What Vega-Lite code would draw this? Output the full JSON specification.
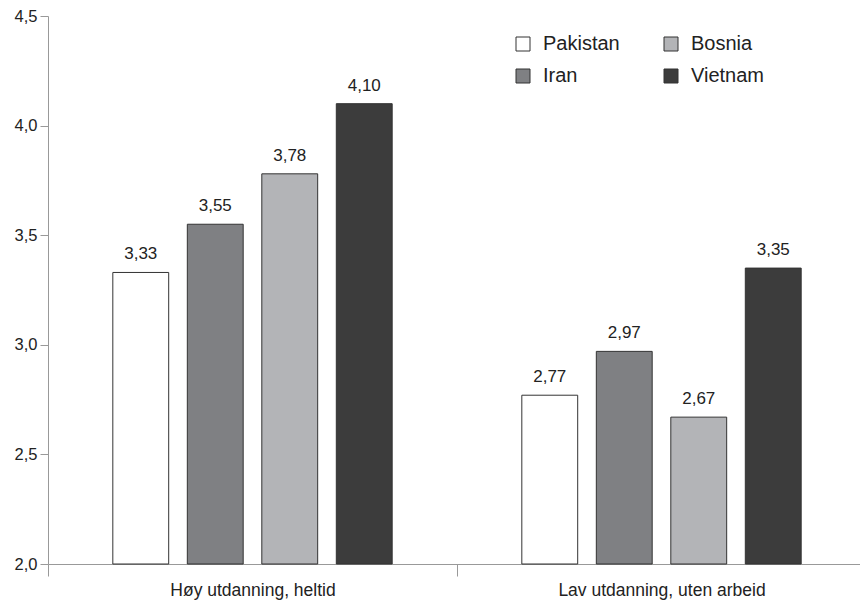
{
  "$schema": "https://vega.github.io/schema/vega-lite/v6.json",
  "width": 812,
  "height": 548,
  "padding": {"left": 48, "top": 16, "right": 0, "bottom": 40},
  "autosize": {"type": "none"},
  "background": "white",
  "config": {
    "locale": {"number": {"decimal": ",", "thousands": " ", "grouping": [3], "currency": ["", " kr"]}},
    "font": "Liberation Sans",
    "view": {"stroke": null}
  },
  "data": {
    "values": [
      {"group": "Høy utdanning, heltid", "country": "Pakistan", "value": 3.33},
      {"group": "Høy utdanning, heltid", "country": "Iran", "value": 3.55},
      {"group": "Høy utdanning, heltid", "country": "Bosnia", "value": 3.78},
      {"group": "Høy utdanning, heltid", "country": "Vietnam", "value": 4.10},
      {"group": "Lav utdanning, uten arbeid", "country": "Pakistan", "value": 2.77},
      {"group": "Lav utdanning, uten arbeid", "country": "Iran", "value": 2.97},
      {"group": "Lav utdanning, uten arbeid", "country": "Bosnia", "value": 2.67},
      {"group": "Lav utdanning, uten arbeid", "country": "Vietnam", "value": 3.35}
    ]
  },
  "encoding": {
    "x": {
      "field": "group", "type": "nominal", "sort": null,
      "scale": {"paddingInner": 0, "paddingOuter": 0, "range": [0, 818]},
      "axis": {
        "title": null, "labelAngle": 0, "labelFontSize": 17.5, "labelColor": "#222",
        "labelLimit": 400,
        "domainColor": "#999", "tickColor": "#999", "tickBand": "extent",
        "tickSize": 12, "labelPadding": 5
      }
    },
    "xOffset": {
      "field": "country", "type": "nominal",
      "sort": ["Pakistan", "Iran", "Bosnia", "Vietnam"],
      "scale": {"paddingInner": 0.25, "paddingOuter": 0.87}
    },
    "y": {
      "field": "value", "type": "quantitative",
      "scale": {"domain": [2, 4.5], "zero": false, "nice": false},
      "axis": {
        "title": null, "values": [2, 2.5, 3, 3.5, 4, 4.5], "format": ".1f",
        "labelFontSize": 16.5, "labelColor": "#222", "grid": false,
        "domainColor": "#999", "tickColor": "#999", "tickSize": 8, "labelPadding": 3
      }
    }
  },
  "layer": [
    {
      "mark": {"type": "bar", "stroke": "#333", "strokeWidth": 1},
      "encoding": {
        "y2": {"datum": 2},
        "color": {
          "field": "country", "type": "nominal",
          "scale": {
            "domain": ["Pakistan", "Iran", "Bosnia", "Vietnam"],
            "range": ["#ffffff", "#7f8083", "#b3b4b7", "#3c3c3c"]
          },
          "legend": {
            "title": null, "orient": "none", "legendX": 465, "legendY": 18,
            "columns": 2, "symbolType": "square", "symbolSize": 196,
            "values": ["Pakistan", "Iran", "Bosnia", "Vietnam"],
            "symbolStrokeColor": "#333", "symbolStrokeWidth": 1,
            "labelFontSize": 20, "labelColor": "#222", "labelOffset": 10,
            "rowPadding": 12, "columnPadding": 41
          }
        }
      }
    },
    {
      "mark": {"type": "text", "baseline": "bottom", "dy": -9, "fontSize": 17, "color": "#222"},
      "encoding": {
        "text": {"field": "value", "type": "quantitative", "format": ".2f"}
      }
    }
  ]
}
